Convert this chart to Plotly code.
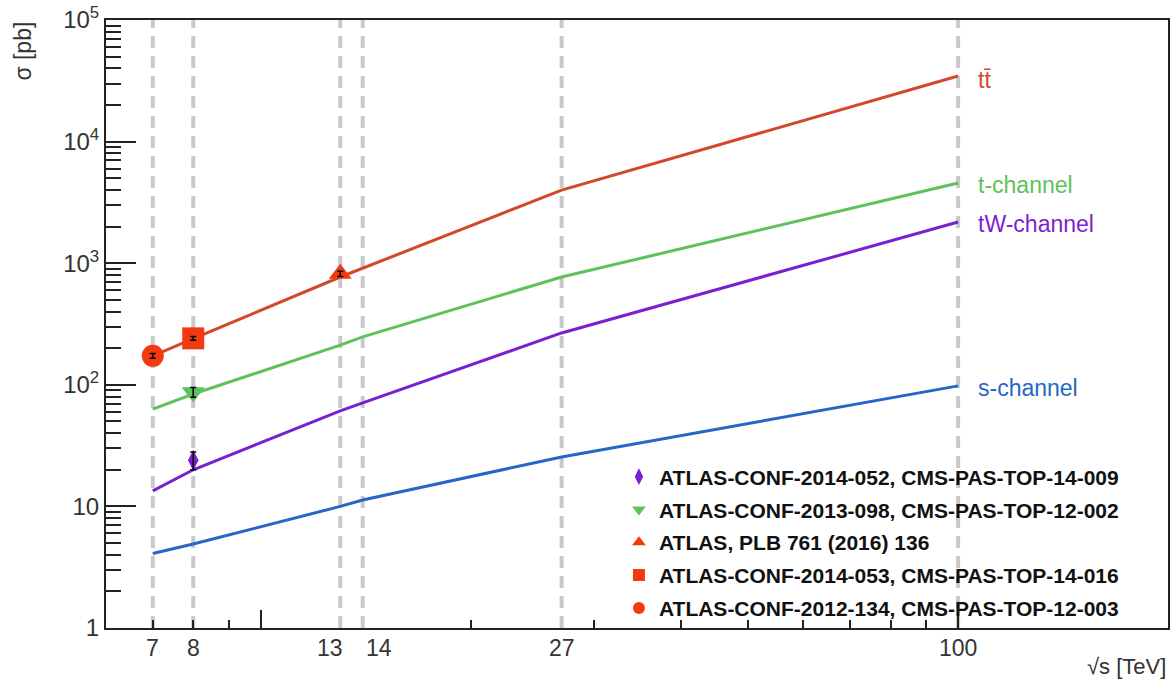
import math
import plotly.graph_objects as go

# ---- data ----
energies = [7, 8, 13, 14, 27, 100]
tick_labels = ["7", "8", "13", "14", "27", "100"]
sigma_ttbar = [173, 240, 770, 910, 3990, 34600]
sigma_tchan = [63, 84, 212, 248, 770, 4560]
sigma_tW = [13.4, 20, 61, 71, 267, 2180]
sigma_schan = [4.1, 4.9, 10.0, 11.3, 25.5, 98]
curve_names = ["tt̄", "t-channel", "tW-channel", "s-channel"]

# measurements
meas_labels = [
    "ATLAS-CONF-2014-052, CMS-PAS-TOP-14-009",
    "ATLAS-CONF-2013-098, CMS-PAS-TOP-12-002",
    "ATLAS, PLB 761 (2016) 136",
    "ATLAS-CONF-2014-053, CMS-PAS-TOP-14-016",
    "ATLAS-CONF-2012-134, CMS-PAS-TOP-12-003",
]
meas_x = [8, 8, 13, 8, 7]
meas_y = [24, 87, 818, 241, 173]
meas_err = [4, 8, 40, 8, 8]

# styling
label_xshift = {"13": -10, "14": 16}  # keep the close labels apart (style only)
col_tt = "#D2482A"
col_tt_m = "#F23A10"
col_t = "#5DC25B"
col_tw = "#7A1FD2"
col_s = "#2566C6"
FONT = "Liberation Sans, Arial, sans-serif"

fig = go.Figure()

# vertical dashed guide lines
for e in energies:
    fig.add_shape(type="line", xref="x", yref="paper", x0=e, x1=e, y0=0, y1=1,
                  line=dict(color="#C9C9C9", width=4, dash="12px,8px"), layer="below")

curves = [sigma_ttbar, sigma_tchan, sigma_tW, sigma_schan]
cols = [col_tt, col_t, col_tw, col_s]
for name, vals, c in zip(curve_names, curves, cols):
    fig.add_trace(go.Scatter(x=energies, y=vals, mode="lines", line=dict(color=c, width=3),
                             showlegend=False, hoverinfo="skip"))
    # annotations on log axes use log10 coordinates
    fig.add_annotation(x=math.log10(energies[-1]), y=math.log10(vals[-1]), xref="x", yref="y",
                       text=name, showarrow=False, xanchor="left", yanchor="middle", xshift=18,
                       yshift=-4 if name == "tt̄" else -2,
                       font=dict(family=FONT, size=23, color=c))

symbols = ["diamond-tall", "triangle-down", "triangle-up", "square", "circle"]
msizes = [15, 20, 20, 22, 22]
mcols = [col_tw, col_t, col_tt_m, col_tt_m, col_tt_m]
for i, lab in enumerate(meas_labels):
    fig.add_trace(go.Scatter(
        x=[meas_x[i]], y=[meas_y[i]], mode="markers", name="<b>" + lab + "</b>",
        legendgroup=str(i),
        marker=dict(symbol=symbols[i], size=msizes[i], color=mcols[i], line=dict(width=0)),
    ))
# error bars drawn on top of the markers
fig.add_trace(go.Scatter(
    x=meas_x, y=meas_y, mode="markers", marker=dict(size=1, opacity=0),
    error_y=dict(type="data", array=meas_err, color="black", thickness=1.5, width=3),
    showlegend=False, hoverinfo="skip"))

# invisible trace for overlay tick axis
fig.add_trace(go.Scatter(x=[10], y=[10], xaxis="x2", mode="markers",
                         marker=dict(opacity=0), showlegend=False, hoverinfo="skip"))

# x tick labels as annotations (allows separating 13 and 14)
for e, t in zip(energies, tick_labels):
    fig.add_annotation(x=math.log10(e), y=0, xref="x", yref="paper", text=t,
                       showarrow=False, xanchor="center", yanchor="top", yshift=-5,
                       xshift=label_xshift.get(t, 0),
                       font=dict(family=FONT, size=23, color="#333"))

minor_x = [7, 8, 9, 20, 30, 40, 50, 60, 70, 80, 90]
minor_y = [m * 10 ** d for d in range(0, 5) for m in range(2, 10)]

fig.update_layout(
    width=1174, height=686,
    margin=dict(l=106, r=6, t=20, b=58, autoexpand=False),
    plot_bgcolor="white", paper_bgcolor="white",
    font=dict(family=FONT, color="#333333"),
    xaxis=dict(type="log", range=[0.778, 2.301], tickmode="array", tickvals=energies,
               ticktext=tick_labels, showticklabels=False, ticks="", showgrid=False,
               zeroline=False, automargin=False,
               showline=True, linecolor="#222", linewidth=2, mirror=True,
               minor=dict(tickmode="array", tickvals=minor_x, ticks="inside", ticklen=8,
                          tickcolor="#222", tickwidth=2, showgrid=False)),
    xaxis2=dict(type="log", range=[0.778, 2.301], overlaying="x", anchor="y",
                tickmode="array", tickvals=[10, 100], ticks="inside", ticklen=18,
                tickcolor="#222", tickwidth=2, showticklabels=False, showgrid=False,
                zeroline=False, showline=False, automargin=False),
    yaxis=dict(type="log", range=[0, 5], tickmode="array",
               tickvals=[1, 10, 100, 1000, 10000, 100000],
               ticktext=["1", "10", "10<sup>2</sup>", "10<sup>3</sup>", "10<sup>4</sup>", "10<sup>5</sup>"],
               ticks="inside", ticklen=30, tickwidth=2, tickcolor="#222",
               showgrid=False, zeroline=False, showline=True, linecolor="#222",
               linewidth=2, mirror=True, automargin=False,
               tickfont=dict(family=FONT, size=24, color="#333"),
               minor=dict(tickmode="array", tickvals=minor_y, ticks="inside", ticklen=15,
                          tickcolor="#222", tickwidth=2, showgrid=False)),
    legend=dict(x=0.483, y=0.282, xanchor="left", yanchor="top", bgcolor="rgba(0,0,0,0)",
                font=dict(family=FONT, size=21, color="#111"),
                tracegroupgap=2.5, itemsizing="constant"),
)

fig.add_annotation(text="σ [pb]", xref="paper", yref="paper", x=-0.079, y=1.0,
                   xanchor="center", yanchor="top", textangle=-90, showarrow=False,
                   font=dict(family=FONT, size=23, color="#333"))
fig.add_annotation(text="√s [TeV]", xref="paper", yref="paper", x=1.0, y=-0.04,
                   xanchor="right", yanchor="top", showarrow=False,
                   font=dict(family=FONT, size=22, color="#333"))

fig.write_html("out.html", config={"displayModeBar": False},
               post_script="document.body.style.margin='0';")
